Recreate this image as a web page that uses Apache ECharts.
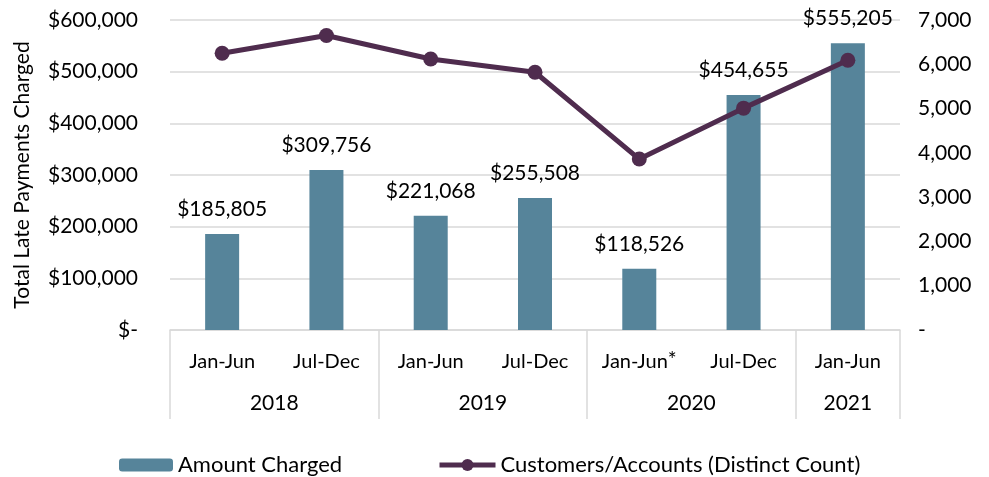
<!DOCTYPE html>
<html>
<head>
<meta charset="utf-8">
<script src="https://cdn.jsdelivr.net/npm/echarts@6/dist/echarts.min.js"></script>
<style>
  html, body { margin: 0; padding: 0; background: #fff; }
  #chart { width: 989px; height: 477px; }
</style>
</head>
<body>
<div id="chart"></div>
<script>
// half-year periods and their year groups
const periods = ['Jan-Jun', 'Jul-Dec', 'Jan-Jun', 'Jul-Dec', 'Jan-Jun*', 'Jul-Dec', 'Jan-Jun'];
const years = ['2018', '2019', '2020', '2021'];
const yearCenters = [1, 3, 5, 6.5];
const yearBounds = [0, 2, 4, 6, 7];
const amountCharged = [185805, 309756, 221068, 255508, 118526, 454655, 555205];
const customers = [6250, 6650, 6120, 5820, 3860, 5010, 6090];

const font = 'Lato, "Open Sans", sans-serif';
const barColor = '#56849A';
const lineColor = '#4F2C4E';
const gridColor = '#D9D9D9';

function money(v) {
  return '$' + v.toLocaleString('en-US');
}

var myChart = echarts.init(document.getElementById('chart'));
let option = {
  backgroundColor: '#fff',
  textStyle: { fontFamily: font },
  grid: { left: 170, right: 89, top: 20, bottom: 147, outerBoundsMode: 'none', containLabel: false },
  legend: [
    {
      data: ['Amount Charged'],
      left: 114,
      top: 449,
      itemWidth: 54,
      itemHeight: 13,
      textStyle: { fontSize: 22, color: '#000', fontFamily: font }
    },
    {
      data: ['Customers/Accounts (Distinct Count)'],
      left: 432,
      top: 449,
      itemWidth: 56,
      itemHeight: 15,
      lineStyle: { width: 5 },
      textStyle: { fontSize: 22, color: '#000', fontFamily: font }
    }
  ],
  xAxis: [
    {
      type: 'category',
      data: periods,
      axisLine: { lineStyle: { color: gridColor, width: 1.5 } },
      axisTick: { show: false },
      axisLabel: {
        interval: 0,
        margin: 20,
        formatter: function (v) {
          return v.endsWith('*') ? '{a|' + v.slice(0, -1) + '}{s|*}' : '{a|' + v + '}';
        },
        rich: {
          a: { fontSize: 20, color: '#000', lineHeight: 24, fontFamily: font },
          s: { fontSize: 21, color: '#000', lineHeight: 10, verticalAlign: 'top', fontFamily: font }
        }
      }
    },
    {
      type: 'value',
      min: 0,
      max: 7,
      position: 'bottom',
      axisLine: { show: false },
      splitLine: { show: false },
      axisTick: {
        show: true,
        customValues: yearBounds,
        length: 89,
        lineStyle: { color: gridColor, width: 1.5 }
      },
      axisLabel: {
        customValues: yearCenters,
        margin: 63,
        fontSize: 21,
        color: '#000',
        formatter: function (v) {
          return years[yearCenters.indexOf(v)];
        }
      }
    }
  ],
  yAxis: [
    {
      type: 'value',
      min: 0,
      max: 600000,
      interval: 100000,
      name: 'Total Late Payments Charged',
      nameLocation: 'middle',
      nameRotate: 90,
      nameGap: 137,
      nameTextStyle: { fontSize: 21, color: '#000' },
      axisLine: { show: false },
      axisTick: { show: false },
      axisLabel: {
        margin: 32,
        fontSize: 21,
        color: '#000',
        formatter: function (v) { return v === 0 ? '$-' : money(v); }
      },
      splitLine: { lineStyle: { color: gridColor, width: 1.5 } }
    },
    {
      type: 'value',
      min: 0,
      max: 7000,
      interval: 1000,
      position: 'right',
      axisLine: { show: false },
      axisTick: { show: false },
      splitLine: { show: false },
      axisLabel: {
        margin: 18,
        fontSize: 21,
        color: '#000',
        formatter: function (v) { return v === 0 ? '-' : v.toLocaleString('en-US'); }
      }
    }
  ],
  series: [
    {
      name: 'Amount Charged',
      type: 'bar',
      data: amountCharged,
      barWidth: 34,
      itemStyle: { color: barColor },
      label: {
        show: true,
        position: 'top',
        distance: 14,
        fontSize: 21,
        color: '#000',
        formatter: function (p) { return money(p.value); }
      }
    },
    {
      name: 'Customers/Accounts (Distinct Count)',
      type: 'line',
      yAxisIndex: 1,
      data: customers,
      symbol: 'circle',
      symbolSize: 15,
      lineStyle: { color: lineColor, width: 5 },
      itemStyle: { color: lineColor }
    }
  ]
};
option && myChart.setOption(option);
</script>
</body>
</html>
